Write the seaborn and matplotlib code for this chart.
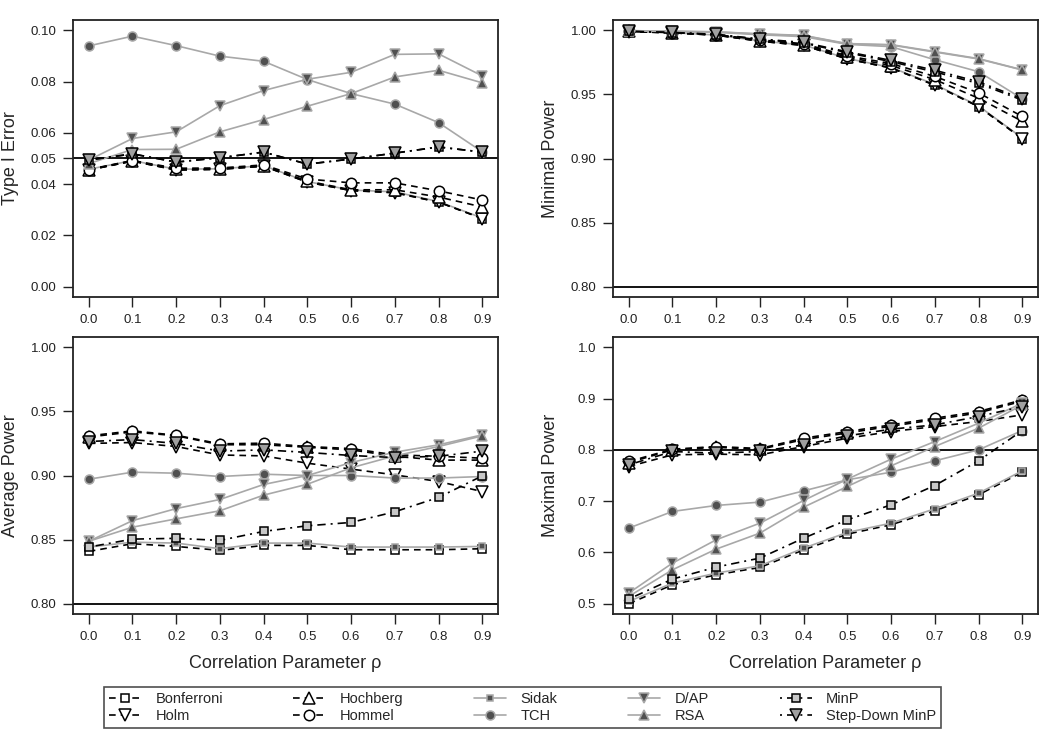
import numpy as np
import pandas as pd
import seaborn as sns
import matplotlib.pyplot as plt

sns.set_style("ticks")
plt.rcParams["font.family"] = ["Liberation Sans", "DejaVu Sans"]

# Correlation parameter values
rho = [0.0, 0.1, 0.2, 0.3, 0.4, 0.5, 0.6, 0.7, 0.8, 0.9]

methods = ["Bonferroni", "Holm", "Hochberg", "Hommel", "Sidak",
           "TCH", "D/AP", "RSA", "MinP", "Step-Down MinP"]

# Type I error
bonf_t1 = [0.0455, 0.0490, 0.0455, 0.0458, 0.0470, 0.0408, 0.0375, 0.0368, 0.0330, 0.0266]
holm_t1 = [0.0455, 0.0490, 0.0455, 0.0458, 0.0470, 0.0408, 0.0375, 0.0366, 0.0330, 0.0266]
hoch_t1 = [0.0456, 0.0491, 0.0458, 0.0460, 0.0472, 0.0412, 0.0378, 0.0378, 0.0350, 0.0311]
homm_t1 = [0.0457, 0.0492, 0.0462, 0.0463, 0.0475, 0.0420, 0.0405, 0.0405, 0.0374, 0.0338]
sidak_t1 = [0.0458, 0.0492, 0.0458, 0.0460, 0.0472, 0.0410, 0.0377, 0.0370, 0.0332, 0.0268]
tch_t1 = [0.0939, 0.0977, 0.0940, 0.0899, 0.0879, 0.0808, 0.0753, 0.0712, 0.0640, 0.0526]
dap_t1 = [0.0494, 0.0578, 0.0604, 0.0706, 0.0765, 0.0809, 0.0836, 0.0906, 0.0908, 0.0822]
rsa_t1 = [0.0480, 0.0535, 0.0536, 0.0604, 0.0652, 0.0704, 0.0753, 0.0818, 0.0844, 0.0795]
minp_t1 = [0.0494, 0.0518, 0.0486, 0.0503, 0.0525, 0.0478, 0.0498, 0.0521, 0.0545, 0.0525]
sdminp_t1 = [0.0494, 0.0518, 0.0486, 0.0503, 0.0525, 0.0478, 0.0498, 0.0521, 0.0545, 0.0525]

# Minimal power
bonf_min = [0.9990, 0.9980, 0.9962, 0.9915, 0.9882, 0.9776, 0.9706, 0.9572, 0.9405, 0.9155]
holm_min = [0.9990, 0.9980, 0.9962, 0.9915, 0.9882, 0.9776, 0.9706, 0.9572, 0.9405, 0.9155]
hoch_min = [0.9991, 0.9981, 0.9964, 0.9920, 0.9888, 0.9790, 0.9725, 0.9615, 0.9470, 0.9290]
homm_min = [0.9992, 0.9982, 0.9966, 0.9925, 0.9895, 0.9800, 0.9740, 0.9640, 0.9512, 0.9328]
sidak_min = [0.9990, 0.9981, 0.9963, 0.9917, 0.9885, 0.9780, 0.9710, 0.9578, 0.9410, 0.9160]
tch_min = [0.9996, 0.9990, 0.9984, 0.9965, 0.9950, 0.9890, 0.9872, 0.9770, 0.9677, 0.9466]
dap_min = [0.9997, 0.9992, 0.9988, 0.9972, 0.9960, 0.9896, 0.9888, 0.9834, 0.9779, 0.9692]
rsa_min = [0.9997, 0.9992, 0.9987, 0.9970, 0.9958, 0.9893, 0.9885, 0.9830, 0.9776, 0.9690]
minp_min = [0.9991, 0.9982, 0.9966, 0.9928, 0.9900, 0.9825, 0.9755, 0.9675, 0.9585, 0.9455]
sdminp_min = [0.9992, 0.9983, 0.9968, 0.9932, 0.9905, 0.9832, 0.9765, 0.9688, 0.9598, 0.9466]

# Average power
bonf_avg = [0.8408, 0.8468, 0.8447, 0.8416, 0.8455, 0.8455, 0.8421, 0.8421, 0.8421, 0.8429]
holm_avg = [0.9250, 0.9257, 0.9226, 0.9160, 0.9153, 0.9096, 0.9050, 0.9005, 0.8953, 0.8875]
hoch_avg = [0.9300, 0.9340, 0.9310, 0.9240, 0.9240, 0.9220, 0.9200, 0.9150, 0.9120, 0.9120]
homm_avg = [0.9309, 0.9348, 0.9314, 0.9247, 0.9252, 0.9226, 0.9210, 0.9161, 0.9150, 0.9135]
sidak_avg = [0.8442, 0.8480, 0.8473, 0.8429, 0.8473, 0.8473, 0.8442, 0.8442, 0.8442, 0.8447]
tch_avg = [0.8971, 0.9026, 0.9018, 0.8992, 0.9010, 0.9000, 0.9000, 0.8980, 0.8980, 0.8992]
dap_avg = [0.8487, 0.8648, 0.8742, 0.8813, 0.8930, 0.9000, 0.9101, 0.9182, 0.9239, 0.9317]
rsa_avg = [0.8487, 0.8597, 0.8662, 0.8725, 0.8847, 0.8932, 0.9060, 0.9153, 0.9226, 0.9309]
minp_avg = [0.8442, 0.8504, 0.8510, 0.8494, 0.8564, 0.8608, 0.8634, 0.8717, 0.8829, 0.8997]
sdminp_avg = [0.9265, 0.9280, 0.9250, 0.9190, 0.9200, 0.9180, 0.9156, 0.9140, 0.9150, 0.9190]

# Maximal power
bonf_max = [0.5000, 0.5370, 0.5565, 0.5707, 0.6050, 0.6357, 0.6540, 0.6812, 0.7123, 0.7565]
holm_max = [0.7675, 0.7903, 0.7916, 0.7903, 0.8065, 0.8227, 0.8357, 0.8454, 0.8552, 0.8682]
hoch_max = [0.7750, 0.8000, 0.8050, 0.8010, 0.8200, 0.8330, 0.8460, 0.8590, 0.8720, 0.8950]
homm_max = [0.7773, 0.8013, 0.8065, 0.8026, 0.8227, 0.8357, 0.8487, 0.8617, 0.8747, 0.8974]
sidak_max = [0.5045, 0.5403, 0.5597, 0.5740, 0.6084, 0.6390, 0.6571, 0.6851, 0.7156, 0.7591]
tch_max = [0.6474, 0.6799, 0.6916, 0.6981, 0.7201, 0.7416, 0.7565, 0.7786, 0.8000, 0.8377]
dap_max = [0.5208, 0.5792, 0.6247, 0.6571, 0.7013, 0.7429, 0.7818, 0.8162, 0.8519, 0.8909]
rsa_max = [0.5143, 0.5662, 0.6065, 0.6377, 0.6883, 0.7286, 0.7688, 0.8065, 0.8422, 0.8877]
minp_max = [0.5091, 0.5481, 0.5714, 0.5890, 0.6279, 0.6636, 0.6929, 0.7305, 0.7786, 0.8377]
sdminp_max = [0.7708, 0.7968, 0.7935, 0.7968, 0.8097, 0.8273, 0.8403, 0.8487, 0.8650, 0.8844]

panels = [
    ("Type I Error", [bonf_t1, holm_t1, hoch_t1, homm_t1, sidak_t1, tch_t1, dap_t1, rsa_t1, minp_t1, sdminp_t1]),
    ("Minimal Power", [bonf_min, holm_min, hoch_min, homm_min, sidak_min, tch_min, dap_min, rsa_min, minp_min, sdminp_min]),
    ("Average Power", [bonf_avg, holm_avg, hoch_avg, homm_avg, sidak_avg, tch_avg, dap_avg, rsa_avg, minp_avg, sdminp_avg]),
    ("Maximal Power", [bonf_max, holm_max, hoch_max, homm_max, sidak_max, tch_max, dap_max, rsa_max, minp_max, sdminp_max]),
]

# y ticks / limits / reference line per panel
yticks = [
    [0.00, 0.02, 0.04, 0.05, 0.06, 0.08, 0.10],
    [0.80, 0.85, 0.90, 0.95, 1.00],
    [0.80, 0.85, 0.90, 0.95, 1.00],
    [0.5, 0.6, 0.7, 0.8, 0.9, 1.0],
]
yfmt = ["{:.2f}", "{:.2f}", "{:.2f}", "{:.1f}"]
ylims = [(-0.004, 0.104), (0.792, 1.008), (0.792, 1.008), (0.48, 1.02)]
refs = [0.05, 0.80, 0.80, 0.80]

dash = (0, (4, 3))
dashdot = (0, (1.2, 3, 5, 3))
gray = "#a8a8a8"
dark = "#505050"

styles = {
    "Bonferroni": dict(color="black", linestyle=dash, marker="s", markerfacecolor="white", markeredgecolor="black", markersize=6),
    "Holm": dict(color="black", linestyle=dash, marker="v", markerfacecolor="white", markeredgecolor="black", markersize=8),
    "Hochberg": dict(color="black", linestyle=dash, marker="^", markerfacecolor="white", markeredgecolor="black", markersize=8),
    "Hommel": dict(color="black", linestyle=dash, marker="o", markerfacecolor="white", markeredgecolor="black", markersize=7.5),
    "Sidak": dict(color=gray, linestyle="-", marker="s", markerfacecolor=dark, markeredgecolor=gray, markersize=5),
    "TCH": dict(color=gray, linestyle="-", marker="o", markerfacecolor=dark, markeredgecolor=gray, markersize=6.5),
    "D/AP": dict(color=gray, linestyle="-", marker="v", markerfacecolor=dark, markeredgecolor=gray, markersize=7.5),
    "RSA": dict(color=gray, linestyle="-", marker="^", markerfacecolor=dark, markeredgecolor=gray, markersize=7.5),
    "MinP": dict(color="black", linestyle=dashdot, marker="s", markerfacecolor="#c8c8c8", markeredgecolor="black", markersize=6),
    "Step-Down MinP": dict(color="black", linestyle=dashdot, marker="v", markerfacecolor="#a0a0a0", markeredgecolor="black", markersize=8),
}

fig = plt.figure(figsize=(10.5, 7.45), dpi=100)
W, H = 1050, 745
boxes = [(73, 20), (613, 20), (73, 337), (613, 337)]
aw, ah = 425, 277

for i, (ylabel, series) in enumerate(panels):
    left, top = boxes[i]
    ax = fig.add_axes([left / W, 1 - (top + ah) / H, aw / W, ah / H])
    for name, vals in zip(methods, series):
        df = pd.DataFrame({"rho": rho, "value": vals})
        # Sidak markers sit hidden under the other step-down curves in the top row
        z = 1.5 if (name == "Sidak" and i < 2) else 2
        sns.lineplot(data=df, x="rho", y="value", ax=ax, label=name, legend=False,
                     linewidth=1.2, markeredgewidth=1.1, zorder=z, **styles[name])
    ax.axhline(refs[i], color="black", linewidth=1.3, zorder=1)
    ax.set_xlim(-0.036, 0.936)
    ax.set_ylim(*ylims[i])
    ax.set_xticks(rho)
    ax.set_xticklabels([f"{r:.1f}" for r in rho])
    ax.set_yticks(yticks[i])
    ax.set_yticklabels([yfmt[i].format(t) for t in yticks[i]])
    ax.tick_params(direction="out", length=7, width=1, labelsize=9.5, pad=5,
                   color="#222222", labelcolor="#222222")
    for sp in ax.spines.values():
        sp.set_visible(True)
        sp.set_linewidth(1.3)
        sp.set_color("#222222")
    ax.set_ylabel(ylabel, fontsize=13)
    ax.yaxis.set_label_coords(-0.128, 0.5)
    if i >= 2:
        ax.set_xlabel("Correlation Parameter ρ", fontsize=13, labelpad=9)
    else:
        ax.set_xlabel("")
    if i == 0:
        handles, labels = ax.get_legend_handles_labels()

fig.legend(handles, labels, ncol=5, loc="lower left", mode="expand",
           bbox_to_anchor=(97 / W, 1 - 735 / H, 851 / W, 56 / H),
           frameon=True, fancybox=False, edgecolor="#222222", fontsize=10.5,
           handlelength=2.2, handletextpad=1.0, labelspacing=0.25,
           borderpad=0.3, numpoints=1)
fig.legends[0].get_frame().set_linewidth(1.2)

plt.savefig("out.png", dpi=100)
